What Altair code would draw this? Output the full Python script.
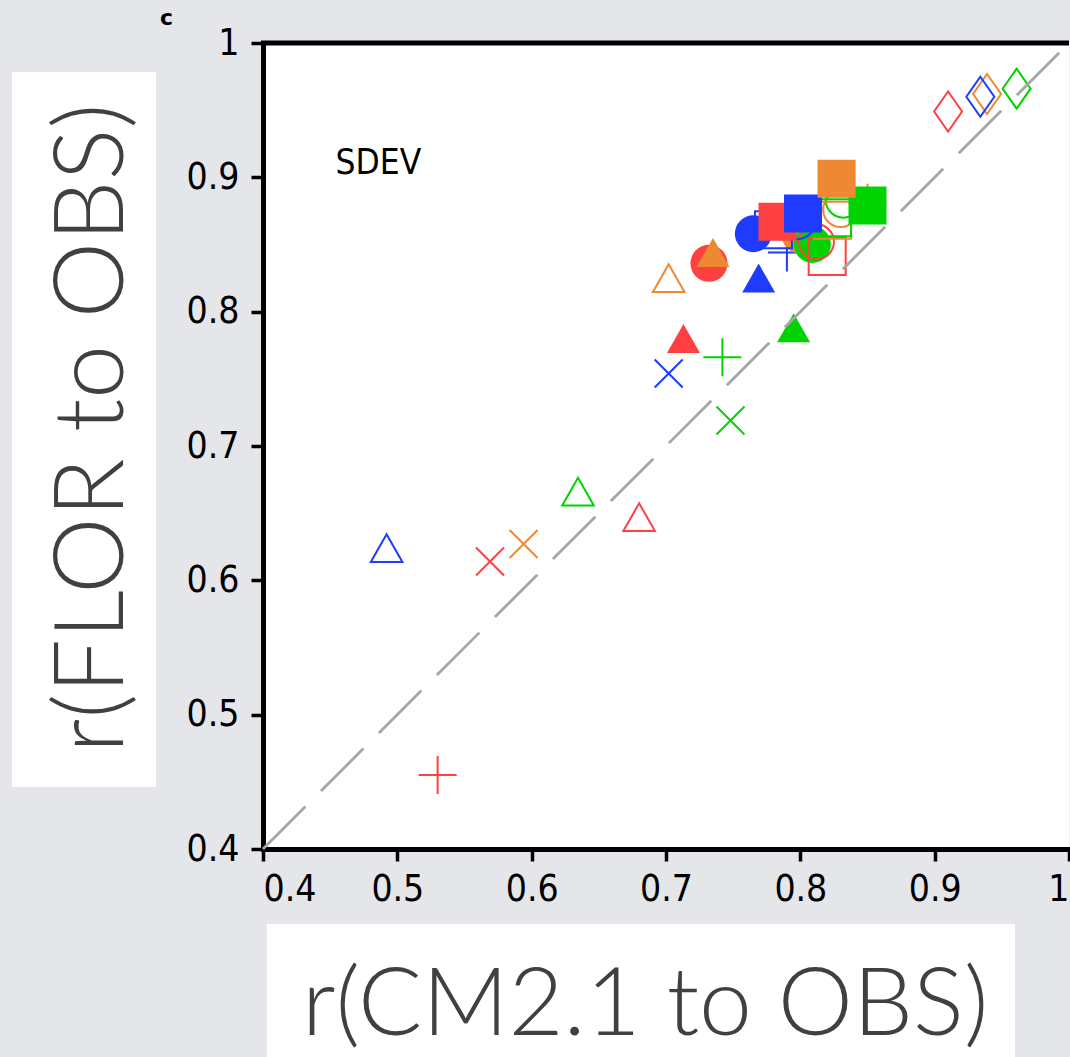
import altair as alt
import pandas as pd

# ---------------- data ----------------
series = ["red", "orange", "blue", "green"]
palette = ["#FF4040", "#EE8833", "#1F3BFF", "#00D400"]

# x = r(CM2.1 to OBS), y = r(FLOR to OBS); lists in `series` order
diamond_open_x = [0.910, 0.939, 0.934, 0.961]
diamond_open_y = [0.949, 0.962, 0.960, 0.966]
square_filled_x = [0.783, 0.827, 0.802, 0.850]
square_filled_y = [0.867, 0.899, 0.873, 0.879]
square_open_x = [0.820, 0.824, 0.780, 0.824]
square_open_y = [0.841, 0.868, 0.861, 0.870]
circle_filled_x = [0.732, 0.800, 0.765, 0.809]
circle_filled_y = [0.836, 0.857, 0.858, 0.850]
circle_open_x = [0.812, 0.830, 0.798, 0.832]
circle_open_y = [0.852, 0.876, 0.867, 0.883]
triangle_filled_x = [0.713, 0.735, 0.769, 0.795]
triangle_filled_y = [0.780, 0.844, 0.825, 0.788]
triangle_open_x = [0.680, 0.702, 0.492, 0.6345]
triangle_open_y = [0.647, 0.825, 0.624, 0.666]
plus_x = [0.530, 0.850, 0.790, 0.742]
plus_y = [0.455, 0.881, 0.844, 0.766]
cross_x = [0.569, 0.594, 0.702, 0.748]
cross_y = [0.614, 0.627, 0.754, 0.719]

diag_x = [0.4, 1.0]
diag_y = [0.4, 1.0]

ticks = [0.4, 0.5, 0.6, 0.7, 0.8, 0.9, 1.0]
panel_label = "c"
note_text = ["SDEV"]
note_x = [0.454]
note_y = [0.911]
x_title = "r(CM2.1 to OBS)"
y_title = "r(FLOR to OBS)"

marker_data = {
    "diamond_open": (diamond_open_x, diamond_open_y),
    "square_filled": (square_filled_x, square_filled_y),
    "square_open": (square_open_x, square_open_y),
    "circle_filled": (circle_filled_x, circle_filled_y),
    "circle_open": (circle_open_x, circle_open_y),
    "triangle_filled": (triangle_filled_x, triangle_filled_y),
    "triangle_open": (triangle_open_x, triangle_open_y),
    "plus": (plus_x, plus_y),
    "cross": (cross_x, cross_y),
}

rows = []
for m, (xs, ys) in marker_data.items():
    for i, s in enumerate(series):
        rows.append({"marker": m, "series": s, "order": i, "x": xs[i], "y": ys[i]})
df = pd.DataFrame(rows)

# ---------------- styles ----------------
TRI = "M0,-0.88L1,0.88L-1,0.88Z"
DIA = "M0,-1L0.7,0L0,1L-0.7,0Z"
PLUS = "M-1,0L1,0M0,-1L0,1"
CROSS = "M-1,-1L1,1M-1,1L1,-1"
styles = {
    "cross": dict(shape=CROSS, size=784, filled=False, strokeWidth=2),
    "plus": dict(shape=PLUS, size=1444, filled=False, strokeWidth=2),
    "triangle_open": dict(shape=TRI, size=1000, filled=False, strokeWidth=2),
    "circle_filled": dict(shape="circle", size=1369, filled=True),
    "triangle_filled": dict(shape=TRI, size=1089, filled=True),
    "circle_open": dict(shape="circle", size=1225, filled=False, strokeWidth=2),
    "square_open": dict(shape="square", size=1369, filled=False, strokeWidth=2),
    "diamond_open": dict(shape=DIA, size=1600, filled=False, strokeWidth=2),
    "square_filled": dict(shape="square", size=1444, filled=True),
}
sq_order = {"red": 0, "blue": 1, "green": 2, "orange": 3}

W, H = 806, 806
LABEL_FONT = "DejaVu Sans Condensed, Liberation Sans Narrow, DejaVu Sans"
TITLE_FONT = "Lato, Open Sans, sans-serif"

label_expr = "datum.value == 1 ? '1' : format(datum.value, '.1f')"
x_axis = alt.Axis(values=ticks, labelExpr=label_expr, title=None, grid=False,
                  orient="bottom")
y_axis = alt.Axis(values=ticks, labelExpr=label_expr, title=None, grid=False,
                  orient="left")
x_scale = alt.Scale(domain=[0.4, 1.0], nice=False, zero=False)
y_scale = alt.Scale(domain=[0.4, 1.0], nice=False, zero=False)
color_enc = alt.Color("series:N", scale=alt.Scale(domain=series, range=palette), legend=None)

layers = []

# title boxes (white panels behind the big axis titles)
box = alt.Data(values=[{"k": 1}])
layers.append(alt.Chart(box).mark_rect(color="white").encode(
    x=alt.value(4), x2=alt.value(752), y=alt.value(881), y2=alt.value(1014)))
layers.append(alt.Chart(box).mark_rect(color="white").encode(
    x=alt.value(-251), x2=alt.value(-107), y=alt.value(29), y2=alt.value(744)))

draw_order = ["cross", "plus", "triangle_open", "circle_filled", "triangle_filled",
              "circle_open", "square_open", "diamond_open", "square_filled"]
for m in draw_order:
    st = dict(styles[m])
    sub = df[df["marker"] == m].copy()
    if m == "square_filled":
        sub["order"] = sub["series"].map(sq_order)
    sub = sub.sort_values("order")
    layers.append(
        alt.Chart(sub).mark_point(opacity=1, **st).encode(
            x=alt.X("x:Q", scale=x_scale, axis=x_axis),
            y=alt.Y("y:Q", scale=y_scale, axis=y_axis),
            color=color_enc,
            order=alt.Order("order:Q"),
        )
    )

# 1:1 dashed line
diag = pd.DataFrame({"x": diag_x, "y": diag_y})
layers.append(
    alt.Chart(diag).mark_line(color="#A6A6A6", strokeWidth=2.8, strokeDash=[60, 22]).encode(
        x=alt.X("x:Q", scale=x_scale, axis=x_axis),
        y=alt.Y("y:Q", scale=y_scale, axis=y_axis),
    )
)

# top frame line
layers.append(alt.Chart(box).mark_rule(color="black", strokeWidth=5).encode(
    x=alt.value(-2), x2=alt.value(W), y=alt.value(0)))

# SDEV annotation
note = pd.DataFrame({"t": note_text, "x": note_x, "y": note_y})
layers.append(
    alt.Chart(note).mark_text(align="left", baseline="middle", font=LABEL_FONT,
                              fontSize=35, color="black").encode(
        x=alt.X("x:Q", scale=x_scale, axis=x_axis),
        y=alt.Y("y:Q", scale=y_scale, axis=y_axis),
        text="t:N",
    )
)

# panel label
layers.append(alt.Chart(box).mark_text(align="left", baseline="alphabetic",
                                       font="DejaVu Sans", fontWeight="bold",
                                       fontSize=22, color="black", text=panel_label).encode(
    x=alt.value(-103), y=alt.value(-18)))

# big axis titles
layers.append(alt.Chart(box).mark_text(align="left", baseline="alphabetic",
                                       font=TITLE_FONT, fontWeight=300,
                                       fontSize=95, color="#404040", text=x_title).encode(
    x=alt.value(39), y=alt.value(992)))
layers.append(alt.Chart(box).mark_text(align="left", baseline="alphabetic", angle=270,
                                       font=TITLE_FONT, fontWeight=300,
                                       fontSize=97, color="#404040", text=y_title).encode(
    x=alt.value(-140), y=alt.value(710)))

chart = alt.layer(*layers).properties(
    width=W, height=H,
    autosize=alt.AutoSizeParams(type="none"),
    padding={"left": 263, "top": 43, "right": 1, "bottom": 208},
    background="#E4E6EA",
).configure_view(
    fill="white", stroke="transparent"
).configure_axis(
    domainColor="black", domainWidth=5, tickColor="black", tickWidth=3.5,
    tickSize=12, labelFont=LABEL_FONT, labelFontSize=37, labelColor="black",
    labelPadding=10, domainCap="square",
).configure_axisLeft(labelPadding=12)

chart.save("out.html", embed_options={"renderer": "svg", "actions": False})
